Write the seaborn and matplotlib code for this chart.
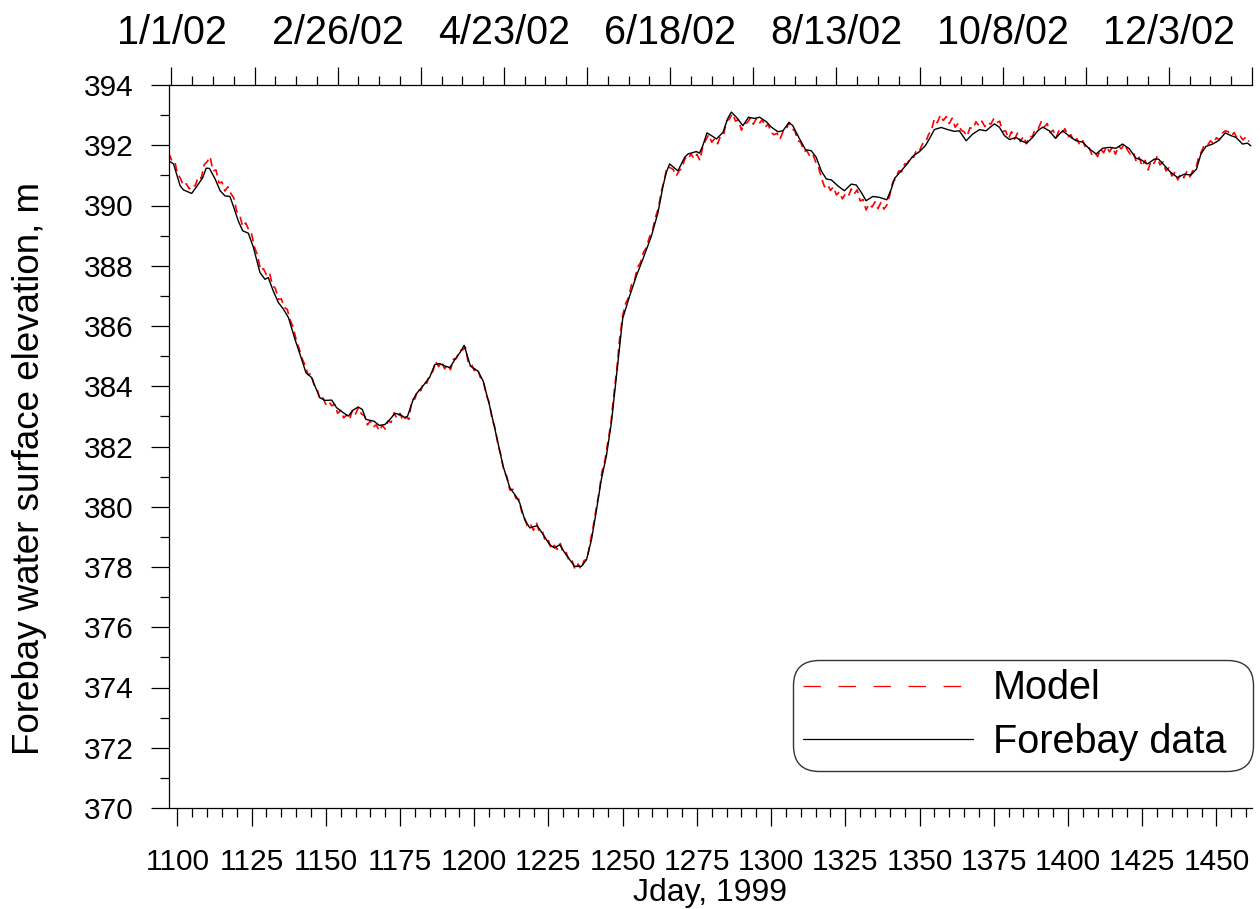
import numpy as np
import pandas as pd
import matplotlib
matplotlib.use("Agg")
import matplotlib.pyplot as plt
from matplotlib.ticker import MultipleLocator, FixedLocator, FixedFormatter
from matplotlib.lines import Line2D
import seaborn as sns

# Observed forebay water surface elevation (Julian day since 1/1/1999, metres)
data_day = [
    1097.0, 1098.7, 1100.9, 1102.0, 1104.8, 1106.5, 1108.5, 1109.7, 1110.8, 1112.7,
    1114.4, 1116.0, 1117.7, 1118.8, 1120.5, 1122.0, 1123.9, 1125.6, 1127.8, 1129.5,
    1130.6, 1132.3, 1134.0, 1135.7, 1137.4, 1139.6, 1141.3, 1143.3, 1145.2, 1146.3,
    1148.0, 1149.7, 1152.0, 1153.6, 1155.9, 1157.6, 1159.2, 1160.9, 1162.3, 1163.5,
    1164.9, 1166.2, 1168.0, 1169.9, 1171.6, 1173.3, 1175.0, 1176.6, 1177.5, 1179.4,
    1180.5, 1182.8, 1185.0, 1186.7, 1188.4, 1190.1, 1191.8, 1193.5, 1195.2, 1196.6,
    1198.7, 1201.3, 1203.0, 1205.2, 1207.5, 1209.7, 1212.0, 1214.2, 1215.3, 1217.0,
    1218.7, 1221.2, 1223.2, 1225.4, 1227.1, 1228.8, 1230.5, 1232.2, 1233.8, 1236.1,
    1237.8, 1239.5, 1241.2, 1242.8, 1244.5, 1246.2, 1247.9, 1250.0, 1252.2, 1254.6,
    1256.8, 1259.7, 1261.9, 1263.6, 1264.7, 1265.8, 1268.6, 1270.9, 1272.0, 1274.8,
    1275.9, 1277.0, 1278.4, 1279.9, 1281.6, 1283.8, 1285.3, 1286.6, 1288.3, 1290.5,
    1292.4, 1294.4, 1296.1, 1298.4, 1300.1, 1302.3, 1304.0, 1306.0, 1307.3, 1309.6,
    1311.6, 1313.5, 1315.2, 1316.9, 1318.6, 1320.3, 1322.5, 1324.7, 1327.0, 1328.7,
    1330.4, 1332.0, 1334.3, 1336.5, 1339.0, 1340.5, 1341.6, 1343.8, 1345.5, 1347.7,
    1350.0, 1352.0, 1353.3, 1355.0, 1357.3, 1359.5, 1361.8, 1363.4, 1365.7, 1367.9,
    1370.2, 1372.4, 1375.2, 1376.9, 1378.6, 1380.3, 1382.5, 1384.2, 1386.1, 1388.1,
    1389.8, 1391.5, 1393.7, 1395.8, 1398.2, 1400.5, 1402.7, 1405.0, 1407.2, 1409.5,
    1411.7, 1414.0, 1416.2, 1418.4, 1420.7, 1422.9, 1424.6, 1426.8, 1429.1, 1430.5,
    1432.4, 1434.4, 1436.9, 1439.2, 1441.4, 1443.3, 1444.8, 1446.5, 1448.7, 1450.7,
    1453.0, 1454.9, 1456.6, 1458.8, 1460.5, 1461.6,
]
data_elev = [
    391.49, 391.38, 390.66, 390.52, 390.40, 390.63, 390.92, 391.24, 391.23, 390.88,
    390.49, 390.32, 390.30, 389.99, 389.49, 389.16, 389.08, 388.61, 387.78, 387.55,
    387.61, 387.16, 386.78, 386.56, 386.28, 385.56, 385.06, 384.45, 384.29, 384.01,
    383.62, 383.53, 383.54, 383.29, 383.12, 383.01, 383.21, 383.31, 383.23, 382.90,
    382.87, 382.84, 382.70, 382.73, 382.90, 383.10, 383.06, 382.96, 383.00, 383.55,
    383.75, 384.02, 384.30, 384.72, 384.75, 384.67, 384.62, 384.89, 385.12, 385.36,
    384.67, 384.50, 384.17, 383.34, 382.34, 381.35, 380.63, 380.33, 380.13, 379.57,
    379.30, 379.37, 379.08, 378.74, 378.63, 378.74, 378.47, 378.24, 378.02, 378.02,
    378.24, 378.91, 379.91, 380.90, 381.68, 382.79, 384.34, 386.25, 386.95, 387.66,
    388.22, 388.99, 389.77, 390.65, 391.10, 391.38, 391.15, 391.60, 391.71, 391.79,
    391.74, 391.99, 392.41, 392.32, 392.21, 392.43, 392.87, 393.10, 392.93, 392.65,
    392.93, 392.89, 392.93, 392.78, 392.60, 392.45, 392.48, 392.76, 392.65, 392.21,
    391.85, 391.82, 391.60, 391.15, 390.88, 390.85, 390.65, 390.49, 390.71, 390.68,
    390.43, 390.16, 390.30, 390.27, 390.19, 390.55, 390.90, 391.15, 391.34, 391.63,
    391.79, 391.99, 392.21, 392.52, 392.59, 392.52, 392.46, 392.48, 392.15, 392.37,
    392.52, 392.48, 392.71, 392.60, 392.32, 392.19, 392.26, 392.15, 392.07, 392.26,
    392.48, 392.60, 392.48, 392.23, 392.48, 392.30, 392.15, 392.10, 391.88, 391.71,
    391.90, 391.93, 391.90, 392.04, 391.88, 391.57, 391.52, 391.38, 391.54, 391.54,
    391.34, 391.12, 390.93, 391.04, 391.01, 391.21, 391.71, 391.96, 392.04, 392.15,
    392.41, 392.32, 392.26, 392.04, 392.07, 391.98,
]

# Modelled forebay elevation, one value per day starting at Jday 1097
model_start_day = 1097
model_elev = [
    391.75, 391.52, 391.50, 391.08, 390.90, 390.66, 390.72, 390.55, 390.68, 390.65,
    390.95, 390.90, 391.35, 391.45, 391.62, 391.15, 391.18, 390.75, 390.78, 390.48,
    390.62, 390.40, 390.25, 389.80, 389.68, 389.30, 389.42, 389.20, 389.05, 388.60,
    388.35, 387.85, 387.90, 387.70, 387.78, 387.35, 387.25, 386.88, 386.90, 386.62,
    386.55, 386.20, 385.95, 385.55,
    385.25, 384.92, 384.70, 384.38, 384.42, 384.05, 383.95, 383.55, 383.62, 383.40,
    383.50, 383.35, 383.40, 383.10, 383.20, 382.95, 383.05, 382.90, 383.22, 383.08,
    383.30, 383.08, 383.02, 382.72, 382.85, 382.65, 382.72, 382.52, 382.70, 382.58,
    382.85, 382.80, 383.12, 382.92, 383.10, 382.85, 382.98, 382.90, 383.55, 383.58,
    383.90, 383.85, 384.15, 384.10, 384.40, 384.48, 384.82, 384.65, 384.82, 384.58,
    384.72, 384.55, 384.90, 384.92, 385.18, 385.20, 385.30,
    384.78, 384.75, 384.52, 384.60, 384.30, 384.22, 383.72, 383.48, 382.92, 382.62,
    382.05, 381.72, 381.18, 381.00, 380.55, 380.58, 380.28, 380.25, 379.82, 379.62,
    379.32, 379.40, 379.22, 379.45, 379.15, 379.18, 378.82, 378.88, 378.58, 378.72,
    378.58, 378.78, 378.45, 378.48, 378.18, 378.20, 377.90, 378.10, 377.92, 378.22,
    378.25, 378.80, 379.30,
    379.90, 380.45, 381.15, 381.52, 382.15, 382.75, 383.70, 384.55, 385.60, 386.35,
    386.75, 386.95, 387.38, 387.52, 387.95, 388.10, 388.45, 388.60, 388.95, 389.15,
    389.60, 389.90, 390.45, 390.85, 391.30, 391.25, 391.20, 390.98, 391.15, 391.25,
    391.58, 391.52, 391.72, 391.55, 391.70, 391.50, 391.95, 392.18, 392.35, 392.10,
    392.22, 392.05, 392.32, 392.35, 392.80, 392.88, 393.05, 392.80, 392.85, 392.50,
    392.72, 392.75, 392.90, 392.70, 392.88, 392.72, 392.85, 392.60, 392.70, 392.42,
    392.35, 392.40, 392.20, 392.45, 392.50, 392.75, 392.55, 392.48, 392.15, 392.10,
    391.80, 391.82, 391.65, 391.72, 391.45, 391.25, 390.90, 390.62, 390.70, 390.50,
    390.62, 390.35, 390.45, 390.22, 390.38, 390.30, 390.55, 390.38, 390.52, 390.15,
    390.20, 389.85, 390.05, 389.95, 390.12, 389.90, 390.10, 389.88, 390.02, 390.35,
    390.78, 390.90, 391.15, 391.12, 391.38, 391.40, 391.62, 391.60, 391.85, 391.82,
    392.05, 392.08, 392.35, 392.50, 392.88, 392.75, 393.00, 392.82, 392.95, 392.72,
    392.90,
    392.60, 392.72, 392.50, 392.45, 392.30, 392.58, 392.55, 392.78, 392.65, 392.80,
    392.62, 392.75, 392.70, 392.88, 392.75, 392.80, 392.45, 392.48, 392.22, 392.45,
    392.20, 392.40, 392.12, 392.30, 392.05, 392.30, 392.28, 392.55, 392.55, 392.78,
    392.60, 392.72, 392.42, 392.50, 392.25, 392.50, 392.40, 392.55, 392.28, 392.35,
    392.12, 392.22, 392.00, 392.15, 391.90, 391.95, 391.70, 391.78, 391.62, 391.88,
    391.75, 391.95, 391.78, 391.95, 391.70, 391.98, 391.88, 392.05, 391.85,
    391.70, 391.78, 391.45, 391.60, 391.30, 391.50, 391.18, 391.48, 391.40, 391.62,
    391.35, 391.45, 391.15, 391.25, 390.98, 391.10, 390.85, 391.05, 390.92, 391.12,
    390.95, 391.15, 391.22, 391.58, 391.80, 392.02, 392.00, 392.15, 392.05, 392.25,
    392.18, 392.40, 392.48, 392.45, 392.32, 392.42, 392.22, 392.30, 392.18, 392.28,
    392.12,
]

# Calendar dates shown along the top axis
date_tick_days = [1098, 1154, 1210, 1266, 1322, 1378, 1434]
date_tick_labels = ["1/1/02", "2/26/02", "4/23/02", "6/18/02", "8/13/02", "10/8/02", "12/3/02"]

model_day = np.arange(model_start_day, model_start_day + len(model_elev))
model_df = pd.DataFrame({"Jday": model_day, "Elevation": model_elev})
data_df = pd.DataFrame({"Jday": data_day, "Elevation": data_elev})

sns.set_theme(style="ticks", rc={
    "axes.edgecolor": "black", "text.color": "black", "axes.labelcolor": "black",
    "xtick.color": "black", "ytick.color": "black",
})
plt.rcParams["font.family"] = ["Liberation Sans", "DejaVu Sans"]

fig = plt.figure(figsize=(12.6, 9.09), dpi=100)
ax = fig.add_axes([168.5 / 1260, 101 / 909, 1083.5 / 1260, 723 / 909])

red = "#ff0000"
sns.lineplot(data=model_df, x="Jday", y="Elevation", ax=ax, estimator=None,
             sort=False, zorder=2, color=red, linewidth=1.2,
             linestyle=(0, (5, 3)))
sns.lineplot(data=data_df, x="Jday", y="Elevation", ax=ax, estimator=None,
             sort=False, zorder=3, color="black", linewidth=1.0)

ax.set_xlim(1097, 1462)
ax.set_ylim(370, 394)

for side in ("top", "right"):
    ax.spines[side].set_visible(False)
for side in ("left", "bottom"):
    ax.spines[side].set_linewidth(0.9)

ax.xaxis.set_major_locator(MultipleLocator(25))
ax.xaxis.set_minor_locator(MultipleLocator(5))
ax.yaxis.set_major_locator(MultipleLocator(2))
ax.yaxis.set_minor_locator(MultipleLocator(1))

ax.tick_params(axis="both", which="both", direction="out", width=0.9)
ax.tick_params(axis="both", which="major", length=13)
ax.tick_params(axis="both", which="minor", length=6.5)
ax.tick_params(axis="x", which="major", labelsize=21.5, pad=16)
ax.tick_params(axis="y", which="major", labelsize=21.5, pad=12)

ax.set_xlabel("Jday, 1999", fontsize=23, labelpad=1)
ax.set_ylabel("Forebay water surface elevation, m", fontsize=26.5)
ax.yaxis.set_label_coords(-0.112, 0.47)

# Calendar-date axis along the top
top = ax.secondary_xaxis("top")
top_major = np.arange(1098, 1463, 28)
top_labels = [date_tick_labels[date_tick_days.index(d)] if d in date_tick_days else ""
              for d in top_major]
top.xaxis.set_major_locator(FixedLocator(top_major))
top.xaxis.set_major_formatter(FixedFormatter(top_labels))
top.xaxis.set_minor_locator(FixedLocator(np.arange(1098, 1463, 7)))
top.spines["top"].set_linewidth(0.9)
top.tick_params(axis="x", which="both", direction="out", width=0.9)
top.tick_params(axis="x", which="major", length=13, labelsize=28.5, pad=11)
top.tick_params(axis="x", which="minor", length=6.5)

handles = [Line2D([], [], color=red, linewidth=0.9, linestyle=(0, (14, 14))),
           Line2D([], [], color="black", linewidth=0.9)]
leg = ax.legend(handles, ["Model", "Forebay data"], loc="lower left",
                bbox_to_anchor=(0.5764, 0.051, 0.4245, 0.1), mode="expand",
                borderaxespad=0, fontsize=28.5, handlelength=4.3,
                handletextpad=0.5, labelspacing=0.4, borderpad=0.25,
                frameon=True, fancybox=True, framealpha=1)
frame = leg.get_frame()
frame.set_edgecolor("#333333")
frame.set_linewidth(1.0)
frame.set_boxstyle("round", pad=0, rounding_size=0.65)

fig.savefig("out.png", dpi=100)
